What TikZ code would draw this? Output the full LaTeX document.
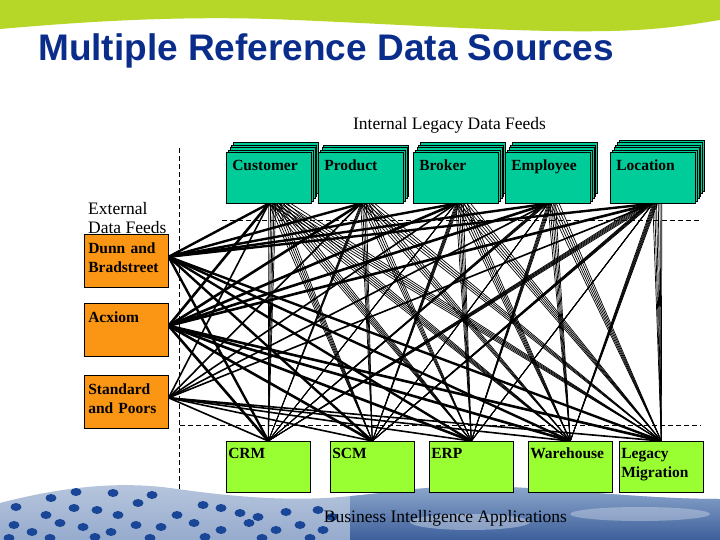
\documentclass[tikz,border=0pt]{standalone}
\usepackage{fontspec}
\setmainfont{Liberation Serif}
\setsansfont{Liberation Sans}

\definecolor{titleblue}{RGB}{10,45,140}
\definecolor{feedgreen}{RGB}{0,204,153}
\definecolor{extorange}{RGB}{250,150,20}
\definecolor{applime}{RGB}{153,255,51}
\definecolor{bandgreen}{RGB}{183,215,40}
\definecolor{dropbg}{RGB}{185,200,222}
\definecolor{droplow}{RGB}{150,170,205}
\definecolor{dropblue}{RGB}{25,70,150}
\definecolor{skytop}{RGB}{150,175,210}
\definecolor{skylow}{RGB}{60,95,155}

\pgfdeclarelayer{deco}
\pgfdeclarelayer{wires}
\pgfsetlayers{deco,wires,main}

\begin{document}
\begin{tikzpicture}[
    x=1pt, y=-1pt,
    boxfont/.style={font=\fontsize{15.5}{19}\selectfont\bfseries},
    feedbox/.style={draw, fill=feedgreen, line width=0.6pt, anchor=north west, minimum width=85pt, minimum height=51pt, inner xsep=6pt, inner ysep=4pt, text width=73pt, align=left, text height=14pt, text depth=29pt, boxfont},
    extbox/.style={draw, fill=extorange, line width=0.6pt, anchor=north west, minimum width=84pt, minimum height=53pt, inner xsep=4pt, inner ysep=3pt, text width=76pt, align=left, text height=16.5pt, text depth=30.5pt, boxfont},
    appbox/.style={draw, fill=applime, line width=0.6pt, anchor=north west, minimum width=84pt, minimum height=51pt, inner xsep=2pt, inner ysep=3pt, text width=80pt, align=left, text height=14.5pt, text depth=30.5pt, boxfont},
    plain/.style={font=\fontsize{17.5}{19}\selectfont, inner sep=0pt},
    strand/.style={line width=0.7pt},
    guide/.style={dash pattern=on 5pt off 3pt, line width=0.7pt}
  ]
    \useasboundingbox (0,0) rectangle (720,540);

    % slide background
    \begin{pgfonlayer}{deco}
      \fill[white] (0,0) rectangle (720,540);
      \fill[bandgreen] (0,0) -- (0,29) .. controls (80,22) and (170,16) .. (270,19)
        .. controls (400,24) and (520,33) .. (610,31) .. controls (665,30) and (700,23) .. (720,20) -- (720,0) -- cycle;
      \shade[top color=dropbg, bottom color=droplow] (0,540) -- (0,503) .. controls (50,490) and (110,480) .. (170,488)
        .. controls (220,495) and (280,502) .. (340,497) .. controls (390,493) and (430,485) .. (480,486)
        .. controls (560,488) and (640,499) .. (720,499) -- (720,540) -- cycle;
      \begin{scope}
        \clip (0,540) -- (0,503) .. controls (50,490) and (110,480) .. (170,488)
          .. controls (220,495) and (280,502) .. (340,497) .. controls (390,493) and (430,485) .. (480,486)
          .. controls (560,488) and (640,499) .. (720,499) -- (720,540) -- cycle;
        \shade[top color=skytop, bottom color=skylow] (350,480) rectangle (720,540);
        \fill[white, opacity=0.35] (470,522) ellipse (60 and 8);
        \fill[white, opacity=0.3] (640,514) ellipse (70 and 7);
      \end{scope}
      \foreach \p in {(16,507),(51,498),(76,492),(113,493),(138,503),(152,495),(46,515),(74,508),
                      (97,510),(118,515),(177,515),(203,505),(221,508),(240,513),(258,517),(286,512),
                      (318,510),(332,517),(14,525),(32,532),(60,523),(83,527),(111,532),(136,525),
                      (161,527),(194,523),(221,530),(249,523),(276,530),(300,525),(323,530),(9,538),
                      (50,538),(95,537),(150,538),(205,537),(262,538),(310,538)}
        \fill[dropblue] \p ellipse (5.5 and 4);
    \end{pgfonlayer}

    \node[font=\sffamily\bfseries\fontsize{37}{40}\selectfont, text=titleblue, anchor=base west, inner sep=0pt] (title) at (38,61) {Multiple Reference Data Sources};

    \node[plain, anchor=base] (internal) at (449.5,130) {Internal Legacy Data Feeds};
    \node[plain, anchor=north west, align=left] (external) at (88,202.5) {External\\Data Feeds};
    \node[plain, anchor=base] (bi) at (445.5,522) {Business Intelligence Applications};

    % stacked internal feeds
    \foreach \f/\x/\m/\txt in {cust/226/4/Customer, prod/318/3/Product, brok/413/4/Broker, empl/505/4/Employee, loca/610/5/Location}{
      \foreach \k in {\m,...,1}
        \node[feedbox] (\f-\k) at ({\x+1.8*\k},{152-2.4*\k}) {};
      \node[feedbox, alias=\f-0] (\f) at (\x,152) {\txt};
    }

    \node[extbox] (dunn) at (84,234) {Dunn and\\Bradstreet};
    \node[extbox] (acxiom) at (84,303) {Acxiom};
    \node[extbox] (sandp) at (84,375) {Standard\\and Poors};

    \node[appbox] (crm) at (226,441) {CRM};
    \node[appbox] (scm) at (330,441) {SCM};
    \node[appbox] (erp) at (429,441) {ERP};
    \node[appbox] (ware) at (528,441) {Warehouse};
    \node[appbox] (legacy) at (619,441) {Legacy\\Migration};

    \begin{pgfonlayer}{wires}
      \foreach \f/\m in {cust/4, prod/3, brok/4, empl/4, loca/5}
        \foreach \a in {crm, scm, erp, ware, legacy}
          \foreach \k in {0,...,\m}
            \draw[strand] (\f-\k.south) -- (\a.north);
      \foreach \e/\w in {dunn/2.4pt, acxiom/2.6pt, sandp/1.6pt}{
        \foreach \f in {cust, prod, brok, empl, loca}
          \draw[line width=\w] ([yshift=4pt]\e.east) -- (\f.south);
        \foreach \a in {crm, scm, erp, ware, legacy}
          \draw[line width=\w] ([yshift=4pt]\e.east) -- (\a.north);
      }
      % dashed frame
      \draw[guide] (179,148) -- (179,490);
      \draw[guide] (222,220) -- (701,220);
      \draw[guide] (180,425) -- (701,425);
    \end{pgfonlayer}
  \end{tikzpicture}
\end{document}
